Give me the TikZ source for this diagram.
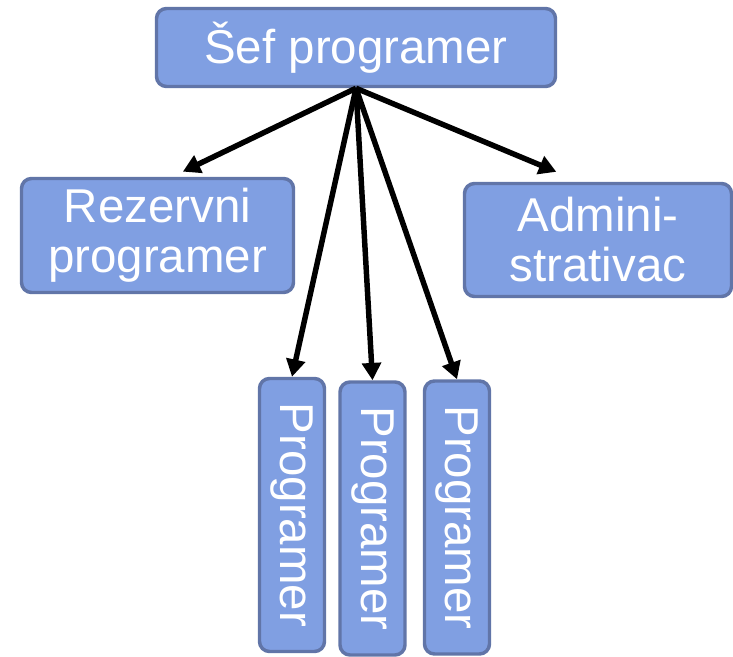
\documentclass[tikz,border=0pt]{standalone}
\usepackage{fontspec}
\setmainfont{Liberation Sans}
\usepackage{tikz}
\usetikzlibrary{arrows.meta}
\definecolor{boxfill}{RGB}{128,159,226}
\definecolor{boxline}{RGB}{97,117,168}

\begin{document}
\begin{tikzpicture}
[x=0.75pt,y=-0.75pt]
\tikzstyle{role node}=[rectangle,rounded corners=7.5pt,draw=boxline,line width=2.6pt,fill=boxfill,text=white,inner sep=0,align=center,font=\fontsize{35.6}{37.5}\selectfont]
\tikzstyle{prog node}=[role node,rotate=-90,minimum width=204.75pt,minimum height=48.75pt]
\tikzstyle{link}=[line width=4.1pt,-{Triangle[length=13pt,width=14pt]}]

\useasboundingbox (0,0) rectangle (733,657);

\node(0)[role node,minimum width=299.25pt,minimum height=58.5pt]at(356,47.5){Šef programer};
\node(1)[role node,minimum width=204pt,minimum height=85.5pt]at(157.5,235.5){Rezervni\\programer};
\node(2)[role node,minimum width=200.25pt,minimum height=84.75pt]at(598,240){Admini-\\strativac};
\node(3)[prog node]at(292,515){Programer};
\node(4)[prog node]at(372.5,518.5){Programer};
\node(5)[prog node]at(457,517.5){Programer};

\draw[link,shorten >=8.9pt](0.south)--(1.76.8);
\draw[link,shorten >=19.4pt](0.south)--(2.107.3);
\draw[link](0.south)--(3.west);
\draw[link](0.south)--(4.west);
\draw[link](0.south)--(5.west);
\end{tikzpicture}
\end{document}
